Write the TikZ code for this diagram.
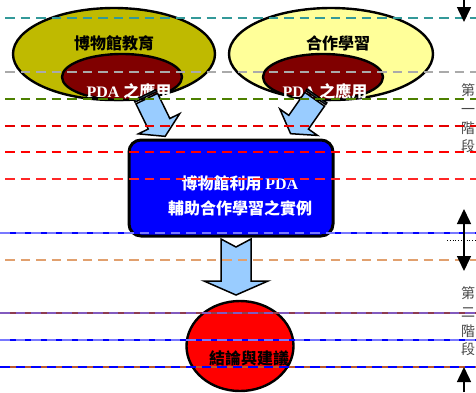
\documentclass[tikz,border=0pt]{standalone}
\usepackage{fontspec}
\setmainfont{Liberation Serif}
\newfontfamily\cjk{Noto Sans CJK TC}
\usetikzlibrary{arrows.meta,shapes.geometric}
\definecolor{olivefill}{RGB}{191,186,0}
\definecolor{paleyellow}{RGB}{255,255,153}
\definecolor{darkred}{RGB}{128,0,0}
\definecolor{arrowblue}{RGB}{153,204,255}
\definecolor{tealline}{RGB}{51,153,153}
\definecolor{grayline}{RGB}{170,170,170}
\definecolor{greenline}{RGB}{77,128,0}
\definecolor{orangeline}{RGB}{225,160,110}
\definecolor{brownline}{RGB}{140,60,80}
\definecolor{purpleline}{RGB}{130,90,190}
\definecolor{lightblueline}{RGB}{120,120,255}
\definecolor{stagegray}{RGB}{70,70,70}
\tikzset{
  guide/.style={line width=1.2pt, dash pattern=on 9.5pt off 6pt},
  outerell/.style={ellipse, draw=black, line width=2.4pt, inner sep=0pt},
  innerell/.style={ellipse, draw=black, line width=2.4pt, fill=darkred, inner sep=0pt, minimum width=120pt, minimum height=46pt},
  blockarrow/.style={draw=black, line width=1.5pt, fill=arrowblue, line join=miter},
  darktext/.style={font=\cjk\bfseries\fontsize{16}{18}\selectfont, text=black},
  whitetext/.style={font=\bfseries\fontsize{16}{25}\selectfont, text=white, align=center},
  stagetext/.style={font=\cjk\fontsize{14}{18.6}\selectfont, text=stagegray, align=center, inner sep=0pt},
  sidearrow/.style={line width=1.5pt, -{Triangle[width=14pt,length=15pt]}},
}
\begin{document}
\begin{tikzpicture}[x=1pt,y=-1pt]
\useasboundingbox (0,0) rectangle (476,392);

% top-left ellipse
\node[outerell, fill=olivefill, minimum width=202pt, minimum height=92pt] (museum) at (114,54) {};
\node[darktext] (museumtxt) at (114,43) {博物館教育};
\node[innerell] (pdaL) at (122,77) {};
\node[whitetext] (pdaLtxt) at (129,91) {PDA {\cjk 之應用}};

% top-right ellipse
\node[outerell, fill=paleyellow, minimum width=204pt, minimum height=92pt] (coop) at (331,54) {};
\node[darktext] (cooptxt) at (338,43) {合作學習};
\node[innerell] (pdaR) at (323,77) {};
\node[whitetext] (pdaRtxt) at (325,91) {PDA {\cjk 之應用}};

% left block arrow
\begin{scope}[shift={(145,95)}, rotate=-64]
  \draw[blockarrow] (4,-12) -- (32,-12) -- (32,-23) -- (46,0) -- (32,23) -- (32,12) -- (4,12) -- cycle;
  \draw[blockarrow] (0,-12) rectangle (2,12);
\end{scope}
% right block arrow
\begin{scope}[shift={(317,96)}, rotate=-125]
  \draw[blockarrow] (4,-12) -- (32,-12) -- (32,-23) -- (46,0) -- (32,23) -- (32,12) -- (4,12) -- cycle;
  \draw[blockarrow] (0,-12) rectangle (2,12);
\end{scope}

% central box
\node[draw=black, line width=3pt, fill=blue, rounded corners=12pt, minimum width=204pt, minimum height=96pt] (case) at (231,188) {};
\node[whitetext, font=\cjk\bfseries\fontsize{16}{25}\selectfont] (casetxt) at (240,195.5) {博物館利用 {\rmfamily\bfseries PDA}\\輔助合作學習之實例};

% down block arrow
\draw[blockarrow] (221,239) -- (236,247) -- (251,239) -- (251,281) -- (268,281) -- (236,295) -- (204,281) -- (221,281) -- cycle;

% conclusion circle
\node[ellipse, draw=black, line width=2.4pt, fill=red, minimum width=107pt, minimum height=90pt, inner sep=0pt] (concl) at (240,346) {};
\node[darktext] (concltxt) at (249,358) {結論與建議};

% stage labels
\node[stagetext] (stage1) at (468,118.5) {第\\一\\階\\段};
\node[stagetext] (stage2) at (468,321.5) {第\\二\\階\\段};

% guide lines
\draw[guide, tealline] (5,18) -- (476,18);
\draw[guide, grayline] (5,72) -- (476,72);
\draw[guide, greenline] (5,99) -- (476,99);
\draw[guide, red!90!black] (5,126) -- (476,126);
\draw[guide, red] (5,152) -- (476,152);
\draw[guide, red!85!white] (5,179) -- (476,179);
\draw[line width=1.2pt, blue] (0,233) -- (476,233);
\draw[guide, lightblueline] (0,233) -- (476,233);
\draw[guide, orangeline] (5,260) -- (476,260);
\draw[line width=1.2pt, brownline] (0,313) -- (476,313);
\draw[guide, purpleline] (0,313) -- (476,313);
\draw[line width=1.2pt, blue] (0,340) -- (476,340);
\draw[guide, lightblueline] (0,340) -- (476,340);
\draw[line width=1.2pt, brownline!60!orange] (0,367) -- (476,367);
\draw[guide, blue] (0,367) -- (476,367);
\draw[line width=0.8pt, dotted] (447,240) -- (476,240);

% side arrows
\coordinate (a1s) at (464,0);
\coordinate (a1e) at (464,22);
\coordinate (a2s) at (464,209);
\coordinate (a2e) at (464,271);
\coordinate (a3s) at (464,392);
\coordinate (a3e) at (464,367);
\draw[sidearrow] (a1s) -- (a1e);
\draw[sidearrow, {Triangle[width=14pt,length=15pt]}-{Triangle[width=14pt,length=15pt]}] (a2s) -- (a2e);
\draw[sidearrow] (a3s) -- (a3e);
\end{tikzpicture}
\end{document}
